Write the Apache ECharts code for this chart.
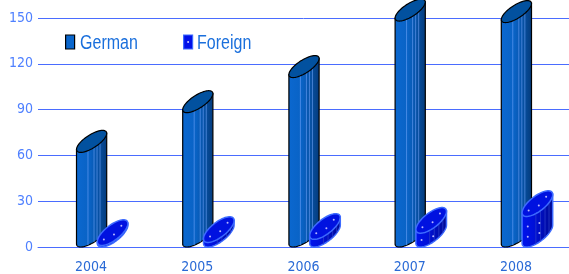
<!DOCTYPE html>
<html>
<head>
<meta charset="utf-8">
<script src="https://cdn.jsdelivr.net/npm/echarts@6/dist/echarts.min.js"></script>
<style>
  html, body { margin: 0; padding: 0; background: #fff; }
  #chart { width: 569px; height: 274px; }
</style>
</head>
<body>
<div id="chart"></div>
<script>
var years = ['2004', '2005', '2006', '2007', '2008'];
var german = [62, 88, 111, 148, 147];
var foreign = [1, 3, 5, 9, 20];
var yTicks = [0, 30, 60, 90, 120, 150];

var FONT = "'Liberation Sans Narrow', 'DejaVu Sans Condensed', 'Liberation Sans', sans-serif";

// ellipse helpers (screen coords, y down)
function ellPts(cx, cy, a, b, th, t1, t2, n) {
  var pts = [];
  var u = [Math.cos(th), -Math.sin(th)], nn = [Math.sin(th), Math.cos(th)];
  for (var i = 0; i <= n; i++) {
    var t = t1 + (t2 - t1) * i / n;
    pts.push([cx + a * Math.cos(t) * u[0] + b * Math.sin(t) * nn[0],
              cy + a * Math.cos(t) * u[1] + b * Math.sin(t) * nn[1]]);
  }
  return pts;
}
function yAt(arc, x) {
  for (var i = 0; i < arc.length - 1; i++) {
    var p = arc[i], q = arc[i + 1];
    if ((p[0] - x) * (q[0] - x) <= 0 && p[0] !== q[0]) {
      return p[1] + (q[1] - p[1]) * (x - p[0]) / (q[0] - p[0]);
    }
  }
  return arc[0][1];
}

function makeCylinder(o) {
  return function (params, api) {
    var idx = api.value(0), v = api.value(1);
    var top = api.coord([idx, v]), bot = api.coord([idx, 0]);
    var th = o.th * Math.PI / 180, a = o.a, b = o.b;
    var ey = Math.sqrt(a * a * Math.sin(th) * Math.sin(th) + b * b * Math.cos(th) * Math.cos(th));
    var cx = bot[0] + o.dx;
    var cyB = bot[1] - ey, cyT = top[1] - ey;
    var t0 = Math.atan2(b * Math.sin(th), a * Math.cos(th));
    var lowB = ellPts(cx, cyB, a, b, th, t0 + Math.PI, t0, 40);
    var lowT = ellPts(cx, cyT, a, b, th, t0 + Math.PI, t0, 40);
    var cap = ellPts(cx, cyT, a, b, th, 0, Math.PI * 2, 60);
    var body = [lowT[0]].concat(lowB).concat([lowT[lowT.length - 1]]);
    var xL = lowB[0][0], xR = lowB[lowB.length - 1][0], w = xR - xL;
    var children = [{
      type: 'polygon',
      shape: { points: body },
      style: {
        fill: new echarts.graphic.LinearGradient(0, 0, 1, 0, o.bodyStops),
        stroke: o.stroke, lineWidth: o.lw
      }
    }];
    o.stripes.forEach(function (f) {
      var x = xL + w * f;
      children.push({
        type: 'line',
        shape: { x1: x, y1: yAt(lowT, x), x2: x, y2: yAt(lowB, x) },
        style: { stroke: o.stripeColor, lineWidth: 1 }
      });
    });
    children.push({
      type: 'polygon',
      shape: { points: cap },
      style: { fill: o.capFill, stroke: o.stroke, lineWidth: o.lw }
    });
    if (o.dots) {
      var dotsT = ellPts(cx, cyT, a * 0.6, b * 0.3, th, 0, Math.PI * 2, 4);
      [0, 2, 1].forEach(function (j) {
        children.push({ type: 'circle', shape: { cx: dotsT[j][0], cy: dotsT[j][1], r: 1 },
          style: { fill: o.dots } });
      });
      var hh = (bot[1] - top[1]);
      if (hh > 8) {
        [0.12, 0.5].forEach(function (f) {
          var x = xL + w * f;
          var y1 = yAt(lowT, x), y2 = yAt(lowB, x);
          var n = Math.floor(hh / 12);
          for (var k = 1; k <= n; k++) {
            children.push({ type: 'circle', shape: { cx: x + 2, cy: y1 + (y2 - y1) * k / (n + 1), r: 1 },
              style: { fill: o.dots } });
          }
        });
      }
    }
    return { type: 'group', children: children };
  };
}

var chart = echarts.init(document.getElementById('chart'));
chart.setOption({
  animation: false,
  grid: { left: 38, right: -4, top: 18, bottom: 25 },
  // legend drawn by hand so the text can be squeezed like the narrow original font
  graphic: [{
    type: 'group', left: 65, top: 33,
    children: [
      { type: 'rect', shape: { x: 0.5, y: 2, width: 9, height: 14 },
        style: { fill: '#0a66cc', stroke: '#000', lineWidth: 1.2 } },
      { type: 'text', x: 15, y: 0, scaleX: 0.8,
        style: { text: 'German', font: "20px 'Liberation Sans', sans-serif", fill: '#1a6fdc' } },
      { type: 'rect', shape: { x: 118.5, y: 2, width: 9, height: 14 },
        style: { fill: '#0010e8', stroke: '#3d6bff', lineWidth: 1.2 } },
      { type: 'circle', shape: { cx: 123, cy: 9, r: 1 }, style: { fill: '#d0d0ff' } },
      { type: 'text', x: 132, y: 0, scaleX: 0.8,
        style: { text: 'Foreign', font: "20px 'Liberation Sans', sans-serif", fill: '#1a6fdc' } }
    ]
  }],
  xAxis: {
    type: 'category', data: years,
    axisLine: { show: true, lineStyle: { color: '#4a6cff', width: 1 } },
    axisTick: { show: false },
    axisLabel: { color: '#2a6ad6', fontSize: 14, fontFamily: FONT, margin: 13 }
  },
  yAxis: {
    type: 'value', min: yTicks[0], max: yTicks[yTicks.length - 1], interval: 30,
    axisLine: { show: false }, axisTick: { show: false },
    splitLine: { lineStyle: { color: '#4a6cff', width: 1 } },
    axisLabel: { color: '#4f80ff', fontSize: 14, fontFamily: FONT, margin: 5 }
  },
  series: [{
    name: 'German', type: 'custom',
    itemStyle: { color: '#0a66cc' },
    data: german.map(function (v, i) { return [i, v]; }),
    renderItem: makeCylinder({
      dx: 0.5, th: 33, a: 17.5, b: 6.5,
      bodyStops: [{ offset: 0, color: '#0b68d0' }, { offset: 0.45, color: '#0962c4' },
                  { offset: 0.7, color: '#0752a6' }, { offset: 1, color: '#043a7a' }],
      stroke: '#000', lw: 1.2, capFill: '#02519f',
      stripes: [0.38, 0.58, 0.68, 0.78], stripeColor: 'rgba(120,170,255,0.55)'
    })
  }, {
    name: 'Foreign', type: 'custom',
    itemStyle: { color: '#0010e8' },
    data: foreign.map(function (v, i) { return [i, v]; }),
    renderItem: makeCylinder({
      dx: 21.5, th: 38, a: 18.5, b: 7.5,
      bodyStops: [{ offset: 0, color: '#0014ee' }, { offset: 0.4, color: '#0010d8' },
                  { offset: 1, color: '#000a90' }],
      stroke: '#3d6bff', lw: 1.5, capFill: '#0012e0',
      stripes: [0.45, 0.6, 0.75, 0.88], stripeColor: 'rgba(40,60,200,0.8)',
      dots: '#b8b8ff'
    })
  }]
});
</script>
</body>
</html>
